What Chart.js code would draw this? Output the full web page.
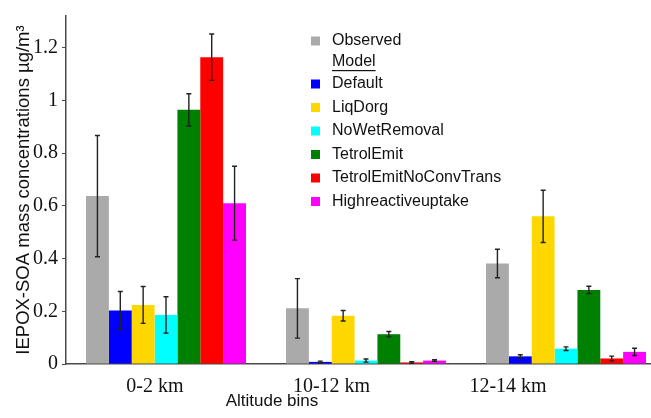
<!DOCTYPE html>
<html lang="en">
    <head>
        <meta charset="UTF-8" />
        <title>IEPOX-SOA by altitude</title>
        <script src="https://cdn.jsdelivr.net/npm/chart.js"></script>
        <style>
            html, body {
                margin: 0;
                padding: 0;
                overflow: hidden;
                background: #fff;
            }
            .chart-container {
                width: 670px;
                height: 418px;
            }
        </style>
    </head>
    <body>
        <div class="chart-container">
            <canvas id="soaChart"></canvas>
        </div>

        <script>
            // altitude bins
            const groups = ["0-2 km", "10-12 km", "12-14 km"];
            const yTicks = [0, 0.2, 0.4, 0.6, 0.8, 1, 1.2];

            // bar heights and error half-widths, per series
            const observed = [0.637, 0.211, 0.381];
            const observedErr = [0.23, 0.113, 0.054];
            const defaultRun = [0.203, 0.008, 0.029];
            const defaultErr = [0.072, 0.003, 0.006];
            const liqDorg = [0.224, 0.183, 0.56];
            const liqDorgErr = [0.07, 0.02, 0.099];
            const noWetRemoval = [0.186, 0.013, 0.058];
            const noWetRemovalErr = [0.069, 0.006, 0.007];
            const tetrolEmit = [0.964, 0.113, 0.281];
            const tetrolEmitErr = [0.061, 0.01, 0.014];
            const tetrolNoConv = [1.164, 0.006, 0.021];
            const tetrolNoConvErr = [0.088, 0.003, 0.009];
            const highReactive = [0.61, 0.013, 0.046];
            const highReactiveErr = [0.14, 0.003, 0.014];

            const series = [
                { label: "Observed", data: observed, err: observedErr, color: "#aaaaaa" },
                { label: "Default", data: defaultRun, err: defaultErr, color: "#0000ff" },
                { label: "LiqDorg", data: liqDorg, err: liqDorgErr, color: "#ffd700" },
                { label: "NoWetRemoval", data: noWetRemoval, err: noWetRemovalErr, color: "#00ffff" },
                { label: "TetrolEmit", data: tetrolEmit, err: tetrolEmitErr, color: "#008000" },
                { label: "TetrolEmitNoConvTrans", data: tetrolNoConv, err: tetrolNoConvErr, color: "#ff0000" },
                { label: "Highreactiveuptake", data: highReactive, err: highReactiveErr, color: "#ff00ff" },
            ];

            const sans = "'Liberation Sans', Arial, sans-serif";
            const serif = "'Liberation Serif', 'Times New Roman', serif";
            const axisColor = "#4a4a4a";

            // error bars drawn on top of each bar
            const errorBars = {
                id: "errorBars",
                afterDatasetsDraw(chart) {
                    const ctx = chart.ctx;
                    const y = chart.scales.y;
                    ctx.save();
                    ctx.strokeStyle = "#222";
                    ctx.lineWidth = 1.4;
                    chart.data.datasets.forEach((ds, i) => {
                        const meta = chart.getDatasetMeta(i);
                        meta.data.forEach((bar, j) => {
                            const v = ds.data[j];
                            const e = ds.errors[j];
                            const top = y.getPixelForValue(v + e);
                            const bot = y.getPixelForValue(Math.max(v - e, 0));
                            const x = bar.x;
                            ctx.beginPath();
                            ctx.moveTo(x, top);
                            ctx.lineTo(x, bot);
                            ctx.moveTo(x - 2.5, top);
                            ctx.lineTo(x + 2.5, top);
                            ctx.moveTo(x - 2.5, bot);
                            ctx.lineTo(x + 2.5, bot);
                            ctx.stroke();
                        });
                    });
                    ctx.restore();
                },
            };

            // legend with a "Model" heading, plus the x title
            const customLegend = {
                id: "customLegend",
                afterDraw(chart) {
                    const ctx = chart.ctx;
                    ctx.save();
                    ctx.font = "16px " + sans;
                    ctx.textBaseline = "middle";
                    ctx.textAlign = "left";
                    const rows = [41, 84, 107.5, 131, 154.5, 178, 201.5];
                    chart.data.datasets.forEach((ds, i) => {
                        const yc = rows[i];
                        ctx.fillStyle = ds.backgroundColor;
                        ctx.fillRect(311, yc - 4.5, 9, 9);
                        ctx.fillStyle = "#111";
                        ctx.fillText(ds.label, 332, yc);
                    });
                    // Model heading
                    ctx.fillStyle = "#111";
                    ctx.fillText("Model", 332, 62);
                    const w = ctx.measureText("Model").width;
                    ctx.fillRect(332, 70, w, 1.2);

                    ctx.font = "17px " + sans;
                    ctx.textAlign = "center";
                    ctx.fillText("Altitude bins", 272, 401);
                    ctx.restore();
                },
            };

            const ctx = document.getElementById("soaChart").getContext("2d");
            new Chart(ctx, {
                type: "bar",
                data: {
                    labels: groups,
                    datasets: series.map((s) => ({
                        label: s.label,
                        data: s.data,
                        errors: s.err,
                        backgroundColor: s.color,
                        borderWidth: 0,
                        categoryPercentage: 0.8,
                        barPercentage: 1.0,
                    })),
                },
                options: {
                    responsive: true,
                    maintainAspectRatio: false,
                    animation: false,
                    layout: { padding: { top: 13, right: 4, left: 0, bottom: 0 } },
                    plugins: {
                        legend: { display: false },
                        tooltip: { enabled: false },
                    },
                    scales: {
                        x: {
                            display: false,
                        },
                        // label axis: tick positions differ from bar centres in the original
                        x2: {
                            type: "linear",
                            position: "bottom",
                            offset: false,
                            min: -0.504,
                            max: 2.895,
                            afterBuildTicks: (axis) => {
                                axis.ticks = groups.map((g, i) => ({ value: i }));
                            },
                            afterFit: (axis) => {
                                axis.height = 54;
                            },
                            grid: { display: false, drawTicks: false, offset: false },
                            border: { display: true, color: axisColor, width: 1.5 },
                            ticks: {
                                padding: 11,
                                color: "#111",
                                font: { family: serif, size: 20 },
                                maxRotation: 0,
                                autoSkip: false,
                                callback: (v) => groups[v],
                            },
                        },
                        y: {
                            min: 0,
                            max: 1.32,
                            afterBuildTicks: (axis) => {
                                axis.ticks = yTicks.map((v) => ({ value: v }));
                            },
                            afterFit: (axis) => {
                                axis.width = 66;
                            },
                            grid: {
                                display: true,
                                drawOnChartArea: false,
                                tickLength: 4,
                                color: axisColor,
                                lineWidth: 1,
                            },
                            border: { display: true, color: axisColor, width: 1.5 },
                            ticks: {
                                padding: 4,
                                color: "#111",
                                font: { family: serif, size: 20 },
                                callback: (v) => (v === 0 || v === 1 ? String(v) : v.toFixed(1)),
                            },
                            title: {
                                display: true,
                                text: "IEPOX-SOA mass concentrations µg/m³",
                                color: "#111",
                                font: { family: sans, size: 18.5 },
                                padding: { top: 13, bottom: 0 },
                            },
                        },
                    },
                },
                plugins: [errorBars, customLegend],
            });
        </script>
    </body>
</html>
